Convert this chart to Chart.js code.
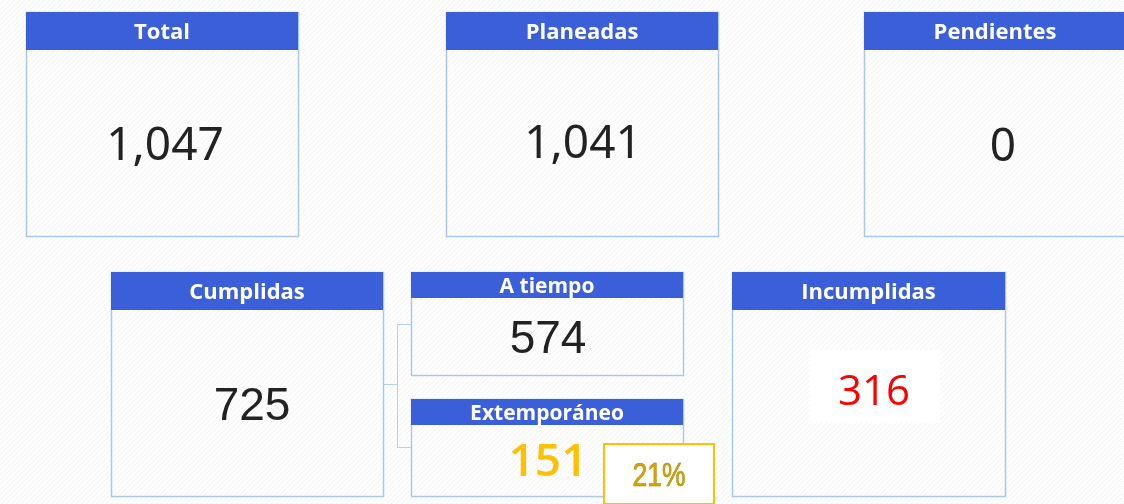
<!DOCTYPE html>
<html>
<head>
<meta charset="utf-8">
<script src="https://cdn.jsdelivr.net/npm/chart.js@4"></script>
<style>
  html, body { margin: 0; padding: 0; background: #fff; }
  #kpi { display: block; }
</style>
</head>
<body>
<canvas id="kpi" width="1124" height="504"></canvas>
<script>
// ===== datos =====
const titulos = ['Total', 'Planeadas', 'Pendientes', 'Cumplidas', 'A tiempo', 'Extemporáneo', 'Incumplidas'];
const valores = [1047, 1041, 0, 725, 574, 151, 316];
const porcentajeExtemporaneo = ['21%'];

// ===== layout de tarjetas (x, y, ancho, alto, alto encabezado) =====
const cajas = [
    [26, 12, 272, 224, 38],
    [446, 12, 272, 224, 38],
    [864, 12, 262, 224, 38],
    [111, 272, 272, 224, 38],
    [411, 272, 272, 103, 26],
    [411, 399, 272, 97, 26],
    [732, 272, 273, 224, 38]
];
// estilo de cada valor: [fuente, color, y del centro, x del centro]
const estilos = [
    ['46px "Noto Sans"', '#222', 147, 165],
    ['46px "Noto Sans"', '#222', 145, 583],
    ['46px "Noto Sans"', '#222', 148, 1003],
    ['46px "Liberation Sans"', '#222', 407, 252],
    ['46px "Liberation Sans"', '#222', 340, 548],
    ['600 46px "Open Sans"', '#FFC000', 463, 548],
    ['42px "Open Sans"', '#FF0000', 393, 874]
];

function patronFondo(ctx) {
    const c = document.createElement('canvas');
    c.width = 5; c.height = 5;
    const p = c.getContext('2d');
    p.fillStyle = '#fefefe';
    p.fillRect(0, 0, 5, 5);
    p.strokeStyle = 'rgba(0,0,0,0.045)';
    p.lineWidth = 1;
    p.beginPath();
    p.moveTo(0, 5); p.lineTo(5, 0);
    p.stroke();
    return ctx.createPattern(c, 'repeat');
}

const tarjetasPlugin = {
    id: 'tarjetas',
    beforeDraw(chart) {
        const ctx = chart.ctx;
        const sx = chart.scales.x, sy = chart.scales.y;
        const px = v => sx.getPixelForValue(v);
        const py = v => sy.getPixelForValue(v);

        ctx.save();
        ctx.fillStyle = patronFondo(ctx);
        ctx.fillRect(0, 0, chart.width, chart.height);

        // conectores Cumplidas -> A tiempo / Extemporáneo
        ctx.strokeStyle = '#b8d2ee';
        ctx.lineWidth = 1;
        ctx.beginPath();
        ctx.moveTo(px(383), py(384.5)); ctx.lineTo(px(397.5), py(384.5));
        ctx.moveTo(px(397.5), py(324.5)); ctx.lineTo(px(397.5), py(447.5));
        ctx.moveTo(px(397.5), py(324.5)); ctx.lineTo(px(411), py(324.5));
        ctx.moveTo(px(397.5), py(447.5)); ctx.lineTo(px(411), py(447.5));
        ctx.stroke();

        // fondo blanco detrás de 316
        ctx.fillStyle = '#ffffff';
        ctx.fillRect(px(810), py(350), px(940) - px(810), py(423) - py(350));

        titulos.forEach((t, i) => {
            const [x, y, w, h, hh] = cajas[i];
            const x0 = px(x), y0 = py(y), x1 = px(x + w), y1 = py(y + h), yh = py(y + hh);
            ctx.strokeStyle = '#a9c8ec';
            ctx.lineWidth = 1.5;
            ctx.strokeRect(x0 + 0.5, y0 + 0.5, x1 - x0, y1 - y0);
            ctx.fillStyle = '#3a5fd8';
            ctx.fillRect(x0, y0, x1 - x0, yh - y0);

            ctx.fillStyle = '#ffffff';
            ctx.font = 'bold ' + (hh > 30 ? 22 : 21) + 'px "Open Sans"';
            ctx.textAlign = 'center';
            ctx.textBaseline = 'middle';
            ctx.fillText(t, (x0 + x1) / 2, (y0 + yh) / 2 + 2);

            const [fuente, color, yv, xv] = estilos[i];
            ctx.font = fuente;
            ctx.fillStyle = color;
            ctx.fillText(valores[i].toLocaleString('en-US'), px(xv), py(yv));
        });

        // recuadro del porcentaje
        ctx.fillStyle = '#ffffff';
        ctx.fillRect(px(603), py(443), px(715) - px(603), py(504) - py(443));
        ctx.strokeStyle = '#FFC000';
        ctx.lineWidth = 2;
        ctx.strokeRect(px(604), py(444), px(714) - px(604), py(504) - py(444));
        ctx.save();
        ctx.translate(px(659), py(477));
        ctx.scale(0.78, 1);
        ctx.fillStyle = '#D4A600';
        ctx.strokeStyle = '#A88300';
        ctx.lineWidth = 0.6;
        ctx.font = '34px "Liberation Sans"';
        ctx.fillText(porcentajeExtemporaneo[0], 0, 0);
        ctx.strokeText(porcentajeExtemporaneo[0], 0, 0);
        ctx.restore();
        ctx.restore();
    }
};

new Chart(document.getElementById('kpi').getContext('2d'), {
    type: 'bar',
    data: { labels: titulos, datasets: [{ data: valores, hidden: true }] },
    options: {
        responsive: false,
        animation: false,
        layout: { padding: 0 },
        plugins: { legend: { display: false }, tooltip: { enabled: false } },
        scales: {
            x: { type: 'linear', min: 0, max: 1124, offset: false, display: false },
            y: { type: 'linear', min: 0, max: 504, reverse: true, offset: false, display: false }
        }
    },
    plugins: [tarjetasPlugin]
});
</script>
</body>
</html>
